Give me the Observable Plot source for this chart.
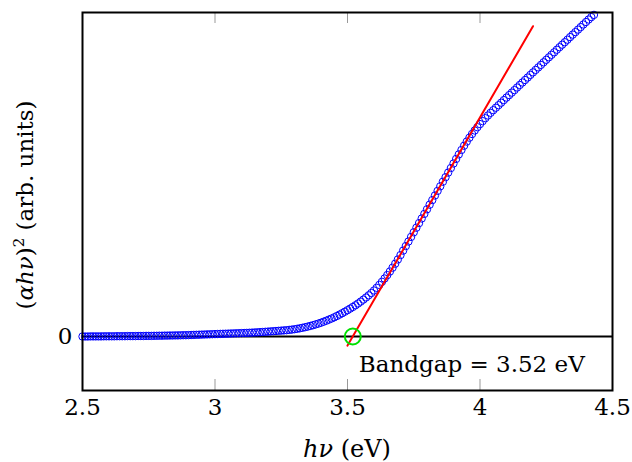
<!DOCTYPE html>
<html><head><meta charset="utf-8">
<script src="https://cdn.jsdelivr.net/npm/d3@7"></script>
<script src="https://cdn.jsdelivr.net/npm/@observablehq/plot@0.6"></script>
<style>body{margin:0;background:#fff}</style>
</head><body><div id="chart"></div>
<script>
// photon energy grid (eV): start and step of the measured spectrum
const xStart = 2.5;
const xStep = 0.01;
// (alpha h nu)^2 in arbitrary units, one value per energy step from 2.50 to 4.43 eV
const absorption = [
  0.0,0.0,0.0,0.1,0.1,0.1,0.1,0.1,0.2,0.2,
  0.2,0.2,0.2,0.3,0.3,0.3,0.3,0.4,0.4,0.4,
  0.4,0.5,0.5,0.5,0.6,0.6,0.6,0.7,0.7,0.8,
  0.8,0.9,0.9,1.0,1.0,1.1,1.1,1.2,1.3,1.3,
  1.4,1.5,1.6,1.7,1.8,1.9,2.0,2.1,2.2,2.3,
  2.4,2.5,2.6,2.7,2.8,2.9,3.0,3.1,3.2,3.3,
  3.4,3.5,3.6,3.75,3.9,4.05,4.2,4.35,4.5,4.7,
  4.9,5.1,5.3,5.5,5.7,5.9,6.1,6.3,6.6,6.9,
  7.3,7.7,8.2,8.7,9.3,9.9,10.6,11.3,12.1,12.9,
  13.8,14.8,15.8,16.9,18.0,19.2,20.5,21.9,23.3,24.8,
  26.3,27.9,29.5,31.2,33.0,34.9,36.9,39.0,41.2,43.5,
  46.0,48.7,51.6,54.7,58.0,61.4,65.0,68.8,72.8,77.0,
  81.4,85.9,90.4,95.0,99.6,104.2,108.8,113.4,118.0,122.6,
  127.2,131.8,136.4,141.0,145.6,150.2,154.8,159.3,163.9,168.4,
  173.0,177.6,182.1,186.5,190.8,194.9,198.8,202.5,206.0,209.3,
  212.4,215.4,218.3,221.0,223.7,226.3,228.8,231.3,233.8,236.4,
  238.9,241.4,243.9,246.4,249.0,251.5,254.0,256.5,259.0,261.6,
  264.1,266.6,269.1,271.6,274.2,276.7,279.2,281.7,284.2,286.8,
  289.3,291.8,294.3,296.8,299.4,301.9,304.4,306.9,309.4,312.0,
  314.5,317.0,319.4,321.6
];
const xTicks = [2.5, 3, 3.5, 4, 4.5];
const innerTicks = [3, 3.5, 4];
const yTicks = [0];
const yDomain = [-54, 324];
// linear (Tauc) fit drawn from 3.5 to 4.2 eV
const fitX = [3.5, 4.2];
const fitY = [-9.1, 310.3];
const bandgap = 3.52;
const bandgapLabel = "Bandgap = 3.52 eV";

const points = absorption.map((y, i) => ({x: +(xStart + i * xStep).toFixed(2), y}));
const fit = fitX.map((x, i) => ({x, y: fitY[i]}));
const gap = [{x: bandgap, y: 0, label: bandgapLabel}];

const chart = Plot.plot({
  width: 632, height: 462,
  marginLeft: 82, marginRight: 20, marginTop: 12, marginBottom: 72,
  style: {fontFamily: "DejaVu Serif", fontSize: "23px", background: "white", color: "black"},
  x: {domain: [2.5, 4.5]},
  y: {domain: yDomain},
  marks: [
    Plot.ruleX(innerTicks, {x: d => d, stroke: "#999", strokeWidth: 1, insetTop: 367}),
    Plot.ruleX(innerTicks, {x: d => d, stroke: "#999", strokeWidth: 1, insetBottom: 367}),
    Plot.ruleY(yTicks, {y: d => d, stroke: "black", strokeWidth: 2}),
    Plot.axisX({ticks: xTicks, tickSize: 0, tickPadding: 8, label: null, tickFormat: d => String(d), fontSize: 23}),
    Plot.axisY({ticks: yTicks, tickSize: 0, tickPadding: 10, label: null, tickFormat: d => String(d), fontSize: 23}),
    Plot.dot(points, {x: "x", y: "y", r: 3.7, stroke: "#0000ff", strokeWidth: 1, fill: "none"}),
    Plot.line(fit, {x: "x", y: "y", stroke: "#ff0000", strokeWidth: 2}),
    Plot.dot(gap, {x: "x", y: "y", r: 8, stroke: "#00e000", strokeWidth: 2, fill: "none"}),
    Plot.text(gap, {x: "x", y: "y", text: "label", textAnchor: "start", lineAnchor: "middle", dx: 6, dy: 28, fontSize: 23, fill: "black"}),
    Plot.frame({stroke: "black", strokeWidth: 2})
  ]
});

const svg = d3.select(chart);
// y-axis title
const yl = svg.append("text")
  .attr("transform", "translate(32.5,205) rotate(-90)")
  .attr("text-anchor", "middle")
  .attr("font-family", "DejaVu Serif")
  .attr("font-size", 23)
  .attr("fill", "black");
yl.append("tspan").text("(");
yl.append("tspan").attr("font-style", "italic").text("αhν");
yl.append("tspan").text(")");
yl.append("tspan").attr("font-size", 15).attr("dy", -9).text("2");
yl.append("tspan").attr("dy", 9).text(" (arb. units)");
// x-axis title
const xl = svg.append("text")
  .attr("x", 347).attr("y", 457)
  .attr("text-anchor", "middle")
  .attr("font-family", "DejaVu Serif")
  .attr("font-size", 24)
  .attr("fill", "black");
xl.append("tspan").attr("font-style", "italic").text("hν");
xl.append("tspan").text(" (eV)");

document.getElementById("chart").appendChild(chart);
</script>
</body></html>
